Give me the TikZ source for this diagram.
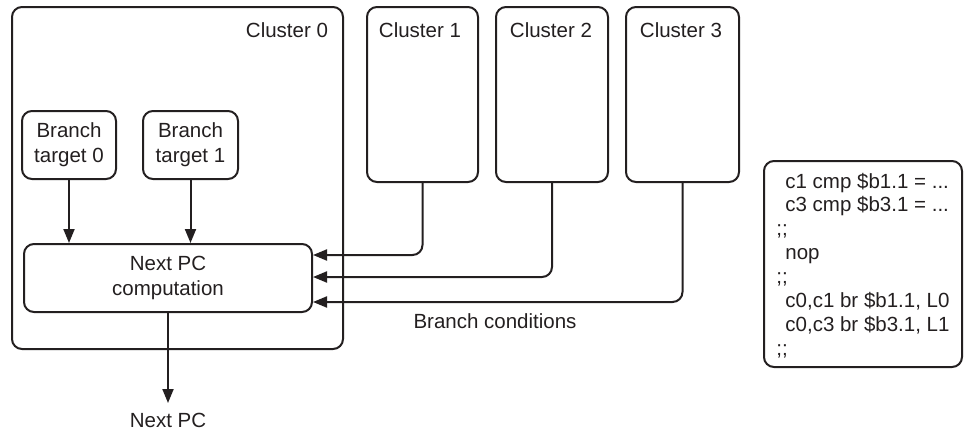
\documentclass[tikz,border=0pt]{standalone}
\usepackage{fontspec}
\setmainfont{Liberation Sans}
\usetikzlibrary{arrows.meta}
\definecolor{ink}{HTML}{231F20}
\tikzset{
  box/.style={draw=ink, line width=1pt, rounded corners=5pt, inner sep=0pt},
  lbl/.style={text=ink, font=\fontsize{10.25}{12.5}\selectfont, align=center, inner sep=0pt},
  arr/.style={draw=ink, line width=1pt, -{Triangle[length=7pt,width=5.5pt]}},
  wire/.style={draw=ink, line width=1pt, rounded corners=5pt, -{Triangle[length=7pt,width=5.5pt]}}
}
\begin{document}
\begin{tikzpicture}[x=0.5pt,y=-0.5pt]
\useasboundingbox (0,0) rectangle (964,429);
% clusters
\node[box, minimum width=165.5pt, minimum height=171pt] (c0) at (177.5,178) {};
\node[box, minimum width=55.5pt, minimum height=87.5pt] (c1) at (422.5,94.5) {};
\node[box, minimum width=56pt, minimum height=87.5pt] (c2) at (552,94.5) {};
\node[box, minimum width=56.5pt, minimum height=87.5pt] (c3) at (682.5,94.5) {};
\node[lbl] (l0) at (287,30) {Cluster 0};
\node[lbl] (l1) at (420,30) {Cluster 1};
\node[lbl] (l2) at (551,30) {Cluster 2};
\node[lbl] (l3) at (681,30) {Cluster 3};
% inner boxes
\node[box, lbl, draw=ink, minimum width=47pt, minimum height=34pt] (bt0) at (69,145) {Branch\\target 0};
\node[box, lbl, draw=ink, minimum width=47.5pt, minimum height=34pt] (bt1) at (190.5,145) {Branch\\target 1};
\node[box, lbl, draw=ink, minimum width=144pt, minimum height=34pt] (npc) at (168,278) {Next PC\\computation};
\draw[arr] (bt0.south) -- (bt0.south |- npc.north);
\draw[arr] (bt1.south) -- (bt1.south |- npc.north);
% branch condition wires
\draw[wire] (c1.south) |- ([yshift=11.5pt]npc.east);
\draw[wire] (c2.south) |- ([yshift=0.5pt]npc.east);
\draw[wire] (c3.south) |- ([yshift=-12pt]npc.east);
\node[lbl] (bc) at (495,321) {Branch conditions};
% output
\coordinate (out) at (168,403);
\draw[arr] (npc.south) -- (out);
\node[lbl] (np) at (168,420) {Next PC};
% code box
\node[box, minimum width=99pt, minimum height=103pt] (code) at (863,264) {};
\node[lbl, align=left, anchor=north west, font=\fontsize{10.25}{11.95}\selectfont] (txt) at (776,172.5)
{\hspace*{4.5pt}c1 cmp \$b1.1 = ...\\
\hspace*{4.5pt}c3 cmp \$b3.1 = ...\\
;;\\
\hspace*{4.5pt}nop\\
;;\\
\hspace*{4.5pt}c0,c1 br \$b1.1, L0\\
\hspace*{4.5pt}c0,c3 br \$b3.1, L1\\
;;};
\end{tikzpicture}
\end{document}
